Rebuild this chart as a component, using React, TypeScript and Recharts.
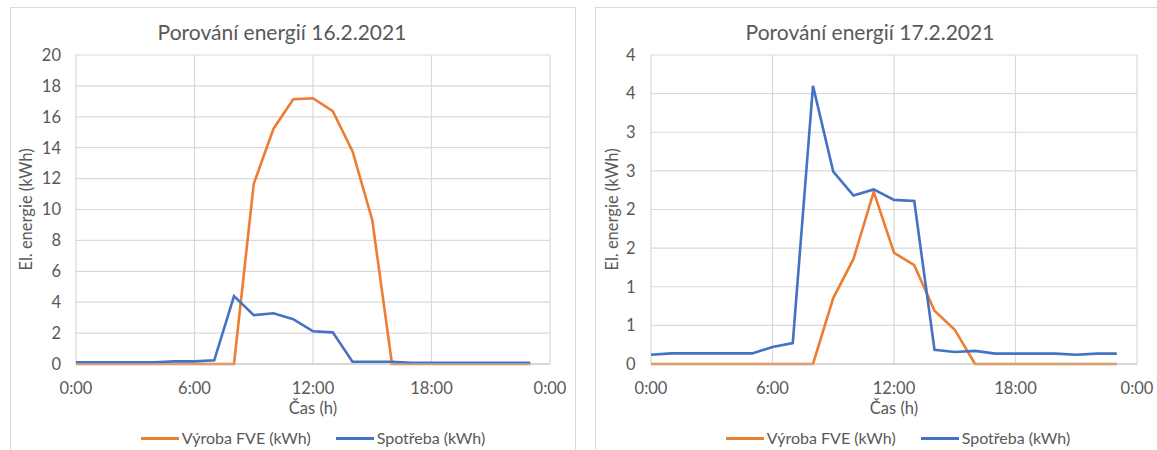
import React from "react";
import {
  LineChart,
  Line,
  XAxis,
  YAxis,
  CartesianGrid,
} from "recharts";

// hodiny dne
const hours = [0, 1, 2, 3, 4, 5, 6, 7, 8, 9, 10, 11, 12, 13, 14, 15, 16, 17, 18, 19, 20, 21, 22, 23];
const xTicks = [0, 6, 12, 18, 24];

// 16.2.2021
const vyroba16 = [0, 0, 0, 0, 0, 0, 0, 0, 0, 11.66, 15.23, 17.14, 17.2, 16.36, 13.78, 9.32, 0, 0, 0, 0, 0, 0, 0, 0];
const spotreba16 = [0.11, 0.11, 0.11, 0.11, 0.11, 0.17, 0.17, 0.24, 4.39, 3.16, 3.28, 2.9, 2.12, 2.05, 0.15, 0.15, 0.15, 0.08, 0.08, 0.08, 0.08, 0.08, 0.08, 0.08];
const yTicks16 = [0, 2, 4, 6, 8, 10, 12, 14, 16, 18, 20];

// 17.2.2021
const vyroba17 = [0, 0, 0, 0, 0, 0, 0, 0, 0, 0.854, 1.36, 2.23, 1.44, 1.28, 0.69, 0.444, 0, 0, 0, 0, 0, 0, 0, 0];
const spotreba17 = [0.12, 0.137, 0.137, 0.137, 0.137, 0.137, 0.22, 0.27, 3.6, 2.49, 2.18, 2.26, 2.125, 2.11, 0.185, 0.155, 0.17, 0.134, 0.134, 0.134, 0.134, 0.12, 0.134, 0.134];
const yTicks17 = [0, 0.5, 1, 1.5, 2, 2.5, 3, 3.5, 4];
// Excel zaokrouhluje popisky osy na cela cisla
const yLabels17 = ["0", "1", "1", "2", "2", "3", "3", "4", "4"];

const ORANGE = "#ED7D31";
const BLUE = "#4472C4";
const TEXT = "#595959";
const FONT = "Lato, 'Open Sans', sans-serif";

type PanelProps = {
  left: number;
  title: string;
  titleX: number;
  vyroba: number[];
  spotreba: number[];
  yMax: number;
  yTicks: number[];
  yFormat: (v: number) => string;
  yAxisWidth: number;
  yTickMargin: number;
  yLabelOffset: number;
  marginRight: number;
  legendX: number;
};

const LegendItem = ({ color, text }: { color: string; text: string }) => (
  <div style={{ display: "flex", alignItems: "center" }}>
    <div style={{ width: 38, height: 3, background: color, marginRight: 3 }} />
    <span>{text}</span>
  </div>
);

const Panel = (p: PanelProps) => {
  const data = hours.map((h, i) => ({
    h,
    vyroba: p.vyroba[i],
    spotreba: p.spotreba[i],
  }));
  return (
    <div
      style={{
        position: "absolute",
        left: p.left,
        top: 7,
        width: 564,
        height: 460,
        border: "1px solid #d9d9d9",
        fontFamily: FONT,
        color: TEXT,
      }}
    >
      <div
        style={{
          position: "absolute",
          left: p.titleX - 200,
          width: 400,
          top: 10,
          textAlign: "center",
          fontSize: 21,
          lineHeight: "28px",
        }}
      >
        {p.title}
      </div>
      <LineChart
        width={564}
        height={442}
        data={data}
        margin={{ top: 47, right: p.marginRight, left: 10, bottom: 56 }}
        style={{ fontFamily: FONT }}
      >
        <CartesianGrid stroke="#d9d9d9" strokeWidth={1.2} />
        <XAxis
          dataKey="h"
          type="number"
          domain={[0, 24]}
          ticks={xTicks}
          tickFormatter={(v) => `${v % 24}:00`}
          height={30}
          tick={{ fill: TEXT, fontSize: 16.5 }}
          tickLine={false}
          tickMargin={12}
          axisLine={{ stroke: "#bfbfbf", strokeWidth: 1.2 }}
          label={{ value: "Čas (h)", position: "bottom", offset: 8, fill: TEXT, fontSize: 16.5 }}
        />
        <YAxis
          domain={[0, p.yMax]}
          ticks={p.yTicks}
          tickFormatter={p.yFormat}
          width={p.yAxisWidth}
          tick={{ fill: TEXT, fontSize: 16.5 }}
          tickLine={false}
          axisLine={false}
          tickMargin={p.yTickMargin}
          label={{
            value: "El. energie (kWh)",
            angle: -90,
            position: "insideLeft",
            offset: p.yLabelOffset,
            fill: TEXT,
            fontSize: 16.5,
            style: { textAnchor: "middle" },
          }}
        />
        <Line
          type="linear"
          dataKey="vyroba"
          stroke={ORANGE}
          strokeWidth={2.6}
          dot={false}
          isAnimationActive={false}
        />
        <Line
          type="linear"
          dataKey="spotreba"
          stroke={BLUE}
          strokeWidth={2.6}
          dot={false}
          isAnimationActive={false}
        />
      </LineChart>
      <div
        style={{
          position: "absolute",
          left: p.legendX - 250,
          width: 500,
          top: 419,
          display: "flex",
          justifyContent: "center",
          gap: 25,
          fontSize: 16,
          lineHeight: "22px",
        }}
      >
        <LegendItem color={ORANGE} text="Výroba FVE (kWh)" />
        <LegendItem color={BLUE} text="Spotřeba (kWh)" />
      </div>
    </div>
  );
};

export default function App() {
  return (
    <div
      style={{
        position: "fixed",
        left: 0,
        top: 0,
        width: 1157,
        height: 450,
        overflow: "hidden",
        background: "#fff",
      }}
    >
      <Panel
        left={10}
        title="Porování energií 16.2.2021"
        titleX={271}
        vyroba={vyroba16}
        spotreba={spotreba16}
        yMax={20}
        yTicks={yTicks16}
        yFormat={(v) => String(v)}
        yAxisWidth={55}
        yTickMargin={9}
        yLabelOffset={5}
        marginRight={25}
        legendX={302}
      />
      <Panel
        left={595}
        title="Porování energií 17.2.2021"
        titleX={274}
        vyroba={vyroba17}
        spotreba={spotreba17}
        yMax={4}
        yTicks={yTicks17}
        yFormat={(v) => yLabels17[yTicks17.indexOf(v)] ?? String(v)}
        yAxisWidth={45}
        yTickMargin={9.5}
        yLabelOffset={6.5}
        marginRight={23}
        legendX={302}
      />
    </div>
  );
}
